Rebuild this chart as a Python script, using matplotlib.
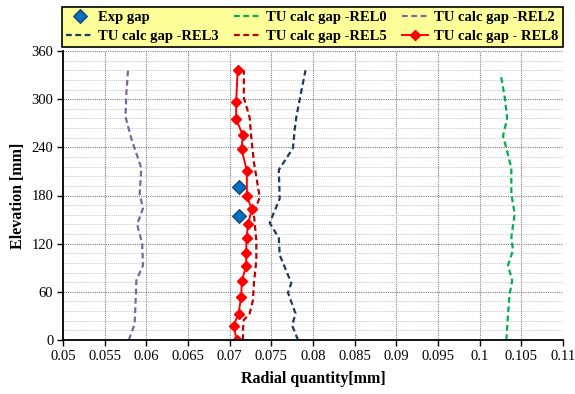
import matplotlib
matplotlib.use("Agg")
import matplotlib.pyplot as plt
from matplotlib.ticker import MultipleLocator

plt.rcParams["font.family"] = ["Liberation Serif", "DejaVu Serif"]

# measured gap
exp_x = [0.0711, 0.0711]
exp_z = [190, 155]

# calculated gaps per release, elevation in mm
rel0_x = [0.1032, 0.1034, 0.1036, 0.1039, 0.1034, 0.1040, 0.1038, 0.1042, 0.1038, 0.1038, 0.1032, 0.1028, 0.1033, 0.1030, 0.1025]
rel0_z = [0, 32, 57, 74, 93, 112, 128, 157, 182, 214, 239, 254, 276, 303, 332]

rel2_x = [0.0579, 0.0586, 0.0587, 0.0588, 0.0596, 0.0595, 0.0589, 0.0596, 0.0592, 0.0594, 0.0582, 0.0575, 0.0576, 0.0578]
rel2_z = [0, 20, 45, 74, 93, 120, 144, 164, 182, 214, 251, 278, 307, 336]

rel3_x = [0.0782, 0.0775, 0.0779, 0.0770, 0.0774, 0.0760, 0.0759, 0.0748, 0.0760, 0.0759, 0.0776, 0.0778, 0.0780, 0.0786, 0.0791]
rel3_z = [0, 18, 33, 59, 71, 106, 127, 146, 176, 212, 239, 262, 278, 310, 336]

rel5_x = [0.0716, 0.0716, 0.0717, 0.0724, 0.0728, 0.0729, 0.0732, 0.0732, 0.0729, 0.0736, 0.0729, 0.0726, 0.0724, 0.0717, 0.0717]
rel5_z = [0, 14, 25, 33, 50, 70, 99, 124, 157, 178, 222, 252, 277, 302, 336]

rel8_x = [0.07083, 0.07047, 0.07107, 0.07138, 0.07146, 0.07198, 0.07198, 0.07202, 0.07222, 0.07266, 0.07206, 0.07206,
          0.07142, 0.07158, 0.07078, 0.07078, 0.07095]
rel8_z = [0, 18, 33, 54, 74, 92, 108, 127, 145, 163, 179, 211, 238, 255, 275, 296, 336]

x_ticks = [0.05, 0.055, 0.06, 0.065, 0.07, 0.075, 0.08, 0.085, 0.09, 0.095, 0.1, 0.105, 0.11]
x_labels = ["0.05", "0.055", "0.06", "0.065", "0.07", "0.075", "0.08", "0.085", "0.09", "0.095", "0.1", "0.105", "0.11"]
y_ticks = [0, 60, 120, 180, 240, 300, 360]

fig = plt.figure(figsize=(5.75, 3.94), dpi=100)
ax = fig.add_axes([63 / 575, 1 - 340 / 394, 500 / 575, 289 / 394])

dash = (0, (2.6, 1.6))
h_exp, = ax.plot(exp_x, exp_z, ls="none", marker="D", ms=7, mfc="#0070C0", mec="#1F3864", mew=0.8, label="Exp gap")
h0, = ax.plot(rel0_x, rel0_z, ls=dash, lw=1.6, color="#00B050", label="TU calc gap -REL0")
h2, = ax.plot(rel2_x, rel2_z, ls=dash, lw=1.6, color="#8064A2", label="TU calc gap -REL2")
h3, = ax.plot(rel3_x, rel3_z, ls=dash, lw=1.6, color="#1F3864", label="TU calc gap -REL3")
h5, = ax.plot(rel5_x, rel5_z, ls=dash, lw=1.6, color="#C00000", label="TU calc gap -REL5")
h8, = ax.plot(rel8_x, rel8_z, ls="-", lw=1.4, color="#FF0000", marker="D", ms=5, mfc="#FF0000",
              mec="#FF0000", label="TU calc gap - REL8")

ax.set_xlim(0.05, 0.11)
ax.set_ylim(0, 360)
ax.set_xticks(x_ticks)
ax.set_xticklabels(x_labels)
ax.set_yticks(y_ticks)
ax.yaxis.set_minor_locator(MultipleLocator(12))
ax.tick_params(axis="both", which="major", direction="out", length=4, width=1, labelsize=10.5, pad=3)
ax.tick_params(axis="y", which="minor", length=0)

ax.grid(True, which="major", axis="both", color="#808080", ls=(0, (1, 1)), lw=0.8)
ax.grid(True, which="minor", axis="y", color="#C8C8C8", ls=(0, (1, 1)), lw=0.7)
ax.set_axisbelow(True)

for side in ("top", "right"):
    ax.spines[side].set_visible(False)
for side in ("left", "bottom"):
    ax.spines[side].set_linewidth(1.3)

ax.set_xlabel("Radial quantity[mm]", fontsize=11.5, fontweight="bold", labelpad=6)
ax.set_ylabel("Elevation [mm]", fontsize=11.5, fontweight="bold", labelpad=4)

handles = [h_exp, h3, h0, h5, h2, h8]
leg = fig.legend(handles=handles, labels=[h.get_label() for h in handles], ncol=3,
                 loc="lower left", bbox_to_anchor=(62 / 575, 1 - 47 / 394, 501 / 575, 43 / 394),
                 mode="expand", frameon=True, fancybox=False, edgecolor="black", facecolor="#FFFF99",
                 framealpha=1, prop={"weight": "bold", "size": 10.5}, handlelength=1.8,
                 handletextpad=0.4, borderpad=0.3, labelspacing=0.35, columnspacing=1.0, borderaxespad=0)
leg.get_frame().set_linewidth(1.2)

fig.savefig("out.png", dpi=100)
